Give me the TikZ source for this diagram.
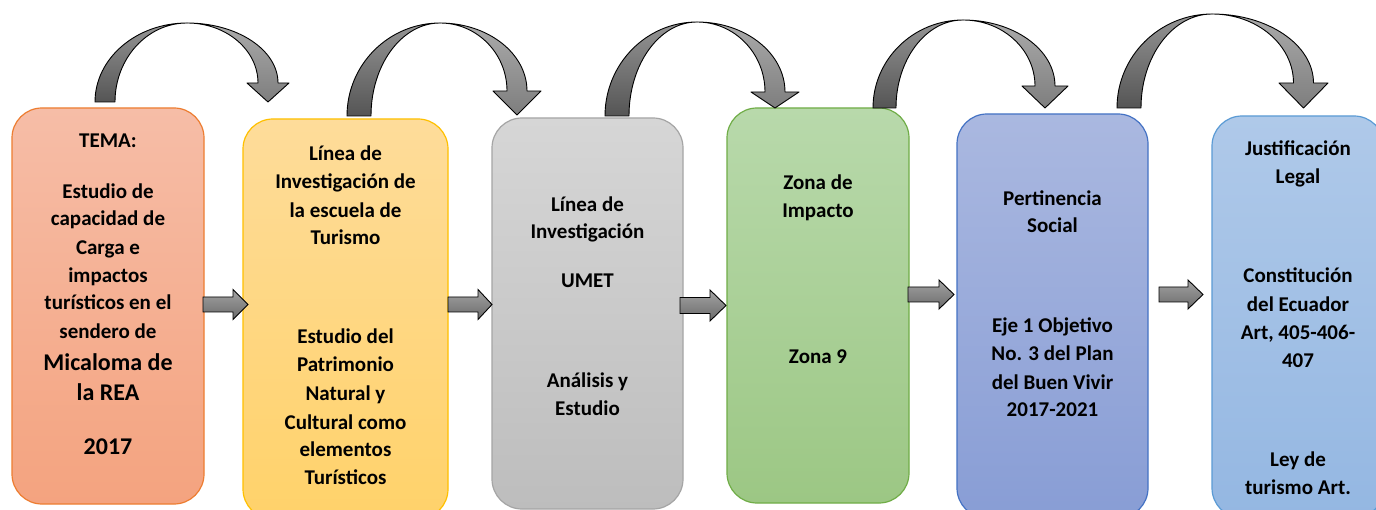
\documentclass[tikz,border=0pt]{standalone}
\usepackage{fontspec}
\setmainfont{Carlito}
\definecolor{b1t}{HTML}{F6BDA7}\definecolor{b1b}{HTML}{F4A37F}\definecolor{b1d}{HTML}{ED7D31}
\definecolor{b2t}{HTML}{FEDC9A}\definecolor{b2b}{HTML}{FFD26A}\definecolor{b2d}{HTML}{FFC000}
\definecolor{b3t}{HTML}{D6D6D6}\definecolor{b3b}{HTML}{BDBDBD}\definecolor{b3d}{HTML}{A5A5A5}
\definecolor{b4t}{HTML}{B8D9AB}\definecolor{b4b}{HTML}{9CC784}\definecolor{b4d}{HTML}{70AD47}
\definecolor{b5t}{HTML}{AAB8E0}\definecolor{b5b}{HTML}{889DD5}\definecolor{b5d}{HTML}{4472C4}
\definecolor{b6t}{HTML}{AFC9E9}\definecolor{b6b}{HTML}{94B7E2}\definecolor{b6d}{HTML}{5B9BD5}
\definecolor{cvLt}{HTML}{959595}\definecolor{cvLb}{HTML}{555555}
\definecolor{cvRt}{HTML}{ABABAB}\definecolor{cvRb}{HTML}{7E7E7E}
\definecolor{baT}{HTML}{A3A3A3}\definecolor{baB}{HTML}{6A6A6A}
\tikzset{
  box/.style={draw, rectangle, rounded corners=30pt, line width=1.2pt, inner sep=0pt, outer sep=0pt, anchor=north west},
  txt/.style={font=\fontsize{21}{25}\selectfont\bfseries, anchor=base, inner sep=0pt, text=black},
  bigtxt/.style={txt, font=\fontsize{24}{28}\selectfont\bfseries},
  carrL/.style={draw=black, line width=0.9pt, line join=round, top color=cvLt, bottom color=cvLb},
  carrR/.style={draw=black, line width=0.9pt, line join=round, top color=cvRt, bottom color=cvRb},
  barr/.style={draw=black, line width=0.9pt, top color=baT, bottom color=baB}
}
\newcommand\curvarr[9]{%
  \pgfmathsetmacro\cvHc{(#7+#8)/2}%
  \pgfmathsetmacro\cvSo{\cvHc+10}%
  \pgfmathsetmacro\cvSi{\cvHc-10}%
  \pgfmathsetmacro\cvKa{#3+0.5523*(#5-#3)}%
  \pgfmathsetmacro\cvKbo{#4-0.5523*(#4-#1)}%
  \pgfmathsetmacro\cvKbi{#4-0.5523*(#4-#2)}%
  \pgfmathsetmacro\cvKro{#4+0.5523*(\cvSo-#4)}%
  \pgfmathsetmacro\cvKri{#4+0.5523*(\cvSi-#4)}%
  \pgfmathsetmacro\cvKry{#6-0.5523*(#6-#5)}%
  \path[carrL] (#1,#3) .. controls (#1,\cvKa) and (\cvKbo,#5) .. (#4,#5)
     .. controls (\cvKbi,#5) and (#2,\cvKa) .. (#2,#3) -- cycle;
  \path[carrR] (#4,#5) .. controls (\cvKro,#5) and (\cvSo,\cvKry) .. (\cvSo,#6)
     -- (#8,#6) -- (\cvHc,#9) -- (#7,#6) -- (\cvSi,#6)
     .. controls (\cvSi,\cvKry) and (\cvKri,#5) .. (#4,#5) -- cycle;
}
% block arrow: x0, xbase, xtip, ycenter, shaft half, head half
\newcommand\blockarr[6]{%
  \path[barr] (#1,#4-#5) -- (#2,#4-#5) -- (#2,#4-#6) -- (#3,#4) -- (#2,#4+#6)
     -- (#2,#4+#5) -- (#1,#4+#5) -- cycle;
}
\begin{document}
\begin{tikzpicture}[x=1pt,y=-1pt]
\useasboundingbox (0,0) rectangle (1376,510);
\clip (0,0) rectangle (1376,510);
\fill[white] (0,0) rectangle (1376,510);

% boxes
\node[box, draw=b1d, top color=b1t, bottom color=b1b, minimum width=192pt, minimum height=396pt] (b1) at (12,108) {};
\node[box, draw=b2d, top color=b2t, bottom color=b2b, minimum width=205pt, minimum height=400pt] (b2) at (243,119) {};
\node[box, draw=b3d, top color=b3t, bottom color=b3b, minimum width=191pt, minimum height=391pt] (b3) at (492,118) {};
\node[box, draw=b4d, top color=b4t, bottom color=b4b, minimum width=182pt, minimum height=395pt] (b4) at (727,108) {};
\node[box, draw=b5d, top color=b5t, bottom color=b5b, minimum width=191pt, minimum height=404pt] (b5) at (957,114) {};
\node[box, draw=b6d, top color=b6t, bottom color=b6b, minimum width=172pt, minimum height=402pt] (b6) at (1212,116) {};

% curved arrows
\curvarr{95}{115}{102}{187}{23}{83}{247}{289}{102}
\curvarr{347}{371}{116}{440}{23}{91}{493}{541}{115}
\curvarr{605}{629}{116}{697}{22}{92}{751}{799}{108}
\curvarr{873}{896}{108}{963}{20}{86}{1022}{1068}{108}
\curvarr{1117}{1141}{108}{1212}{14}{83}{1279}{1328}{108}

% block arrows
\blockarr{203}{233}{248}{304.5}{7.5}{15}
\blockarr{448}{478}{492}{304.5}{7.5}{15}
\blockarr{680}{710}{726}{305.5}{8}{15.5}
\blockarr{908}{939}{954}{294.5}{7.5}{14.5}
\blockarr{1159}{1188}{1203}{294.5}{7.5}{14.5}

% box 1 text
\node[txt] (t1a) at (108,148) {TEMA:};
\node[txt] (t1b) at (108,199) {Estudio de};
\node[txt] (t1c) at (108,226) {capacidad de};
\node[txt] (t1d) at (108,255) {Carga e};
\node[txt] (t1e) at (108,283) {impactos};
\node[txt] (t1f) at (108,310) {turísticos en el};
\node[txt] (t1g) at (108,339) {sendero de};
\node[bigtxt] (t1h) at (108,371) {Micaloma de};
\node[bigtxt] (t1i) at (108,401) {la REA};
\node[bigtxt] (t1j) at (108,454) {2017};

% box 2 text
\node[txt] (t2a) at (345.5,161) {Línea de};
\node[txt] (t2b) at (345.5,189) {Investigación de};
\node[txt] (t2c) at (345.5,218) {la escuela de};
\node[txt] (t2d) at (345.5,245) {Turismo};
\node[txt] (t2e) at (345.5,344) {Estudio del};
\node[txt] (t2f) at (345.5,372) {Patrimonio};
\node[txt] (t2g) at (345.5,400) {Natural y};
\node[txt] (t2h) at (345.5,429) {Cultural como};
\node[txt] (t2i) at (345.5,456) {elementos};
\node[txt] (t2j) at (345.5,484) {Turísticos};

% box 3 text
\node[txt] (t3a) at (587.5,212) {Línea de};
\node[txt] (t3b) at (587.5,239) {Investigación};
\node[txt] (t3c) at (587.5,288) {UMET};
\node[txt] (t3d) at (587.5,388) {Análisis y};
\node[txt] (t3e) at (587.5,415) {Estudio};

% box 4 text
\node[txt] (t4a) at (818,190) {Zona de};
\node[txt] (t4b) at (818,218) {Impacto};
\node[txt] (t4c) at (818,364) {Zona 9};

% box 5 text
\node[txt] (t5a) at (1052.5,206) {Pertinencia};
\node[txt] (t5b) at (1052.5,233) {Social};
\node[txt] (t5c) at (1052.5,333) {Eje 1 Objetivo};
\node[txt] (t5d) at (1052.5,361) {No. 3 del Plan};
\node[txt] (t5e) at (1052.5,389) {del Buen Vivir};
\node[txt] (t5f) at (1052.5,417) {2017-2021};

% box 6 text
\node[txt] (t6a) at (1298,156) {Justificación};
\node[txt] (t6b) at (1298,184) {Legal};
\node[txt] (t6c) at (1298,283) {Constitución};
\node[txt] (t6d) at (1298,312) {del Ecuador};
\node[txt] (t6e) at (1298,340) {Art, 405-406-};
\node[txt] (t6f) at (1298,368) {407};
\node[txt] (t6g) at (1298,466) {Ley de};
\node[txt] (t6h) at (1298,494) {turismo Art.};
\end{tikzpicture}
\end{document}
